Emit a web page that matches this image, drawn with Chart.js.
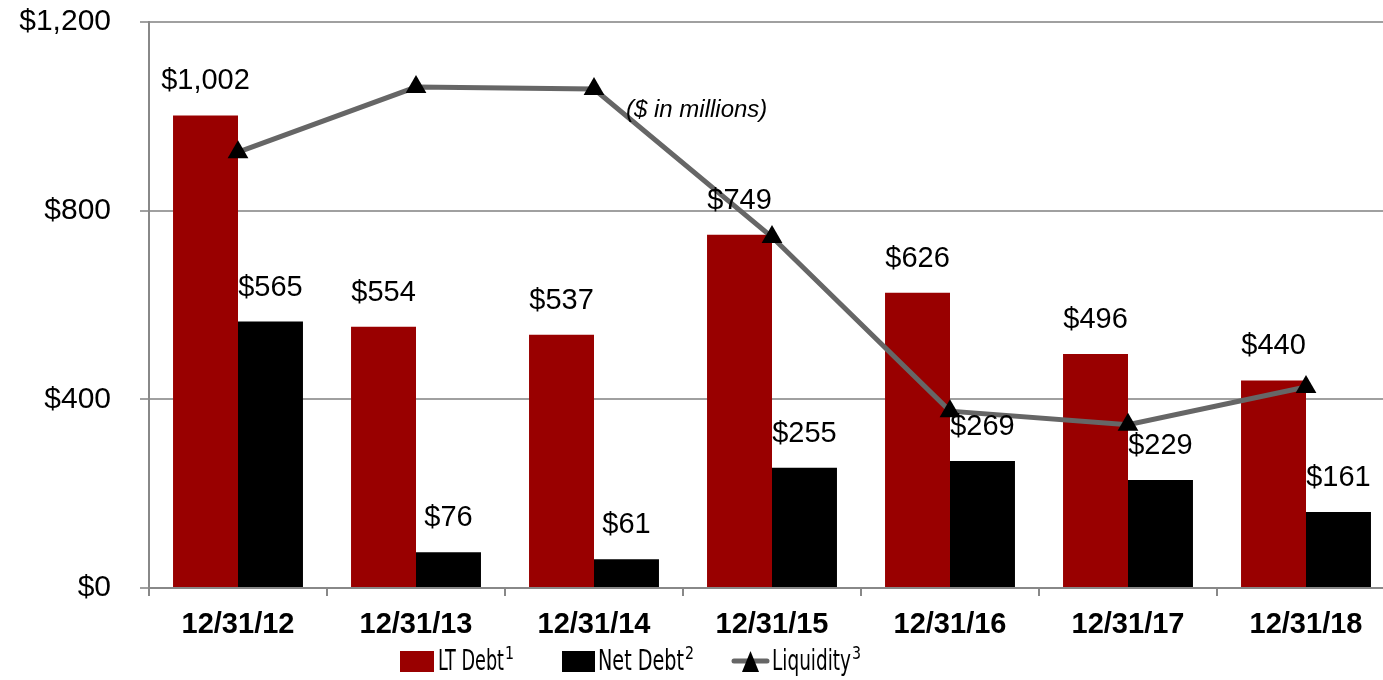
<!DOCTYPE html>
<html>
<head>
<meta charset="utf-8">
<script src="https://cdn.jsdelivr.net/npm/chart.js@4.4.0/dist/chart.umd.min.js"></script>
<style>
  html, body { margin: 0; padding: 0; background: #fff; overflow: hidden; }
  #wrap { position: relative; width: 1383px; height: 680px; }
</style>
</head>
<body>
<div id="wrap"><canvas id="chart"></canvas></div>
<script>
// values ($ in millions)
const categories = ['12/31/12', '12/31/13', '12/31/14', '12/31/15', '12/31/16', '12/31/17', '12/31/18'];
const ltDebt = [1002, 554, 537, 749, 626, 496, 440];
const netDebt = [565, 76, 61, 255, 269, 229, 161];
const liquidity = [924, 1062, 1058, 744, 375, 346, 426];
const yTicks = [0, 400, 800, 1200];

const RED = '#990000';
const LINE_GREY = '#666666';
const ARIAL = '"Liberation Sans", Arial, sans-serif';
const NARROW = '"Liberation Sans Narrow", "DejaVu Sans Condensed", sans-serif';

// the plot in the reference runs a little past the right edge of the picture
const stretchPlot = {
  id: 'stretchPlot',
  afterLayout(chart) {
    const x = chart.scales.x;
    const right = x.left + 1246;
    x.right = right;
    x.width = right - x.left;
    x.configure();
    chart.chartArea.right = right;
    chart.chartArea.width = right - chart.chartArea.left;
  }
};

// $ labels above each bar
const barLabels = {
  id: 'barLabels',
  afterDatasetsDraw(chart) {
    const ctx = chart.ctx;
    ctx.save();
    ctx.font = '29px ' + ARIAL;
    ctx.fillStyle = '#000';
    ctx.textAlign = 'center';
    ctx.textBaseline = 'middle';
    [0, 1].forEach(i => {
      const meta = chart.getDatasetMeta(i);
      meta.data.forEach((bar, j) => {
        const v = chart.data.datasets[i].data[j];
        ctx.fillText('$' + v.toLocaleString('en-US'), bar.x, bar.y - 34);
      });
    });
    // units note
    const a = chart.chartArea;
    ctx.font = 'italic 24px ' + ARIAL;
    ctx.textAlign = 'left';
    ctx.fillText('($ in millions)', a.left + 477, a.top + 88);
    ctx.restore();
  }
};

// legend drawn by hand so the line entry can show line + triangle
function legendText(ctx, text, sup, x, y, width) {
  ctx.font = '29px ' + NARROW;
  ctx.fillText(text, x, y, width);
  const w = Math.min(ctx.measureText(text).width, width);
  ctx.font = '18px ' + NARROW;
  ctx.fillText(sup, x + w + 1, y - 8, 9);
}

const customLegend = {
  id: 'customLegend',
  afterDraw(chart) {
    const ctx = chart.ctx;
    const y = 662;
    ctx.save();
    ctx.textBaseline = 'middle';
    ctx.textAlign = 'left';

    ctx.fillStyle = RED;
    ctx.fillRect(400, y - 11, 34, 21);
    ctx.fillStyle = '#000';
    legendText(ctx, 'LT Debt', '1', 438, y, 66);

    ctx.fillRect(562, y - 11, 33, 21);
    legendText(ctx, 'Net Debt', '2', 598, y, 86);

    ctx.strokeStyle = LINE_GREY;
    ctx.lineWidth = 5;
    ctx.lineCap = 'round';
    ctx.beginPath();
    ctx.moveTo(734, y - 1);
    ctx.lineTo(767, y - 1);
    ctx.stroke();
    ctx.beginPath();
    ctx.moveTo(750.5, y - 11);
    ctx.lineTo(759, y + 10);
    ctx.lineTo(742, y + 10);
    ctx.closePath();
    ctx.fill();
    legendText(ctx, 'Liquidity', '3', 772, y, 79);
    ctx.restore();
  }
};

new Chart(document.getElementById('chart'), {
  data: {
    labels: categories,
    datasets: [
      {
        type: 'bar',
        label: 'LT Debt\u00b9',
        data: ltDebt,
        backgroundColor: RED,
        order: 2,
        categoryPercentage: 0.73,
        barPercentage: 1.0
      },
      {
        type: 'bar',
        label: 'Net Debt\u00b2',
        data: netDebt,
        backgroundColor: '#000000',
        order: 2,
        categoryPercentage: 0.73,
        barPercentage: 1.0
      },
      {
        type: 'line',
        label: 'Liquidity\u00b3',
        data: liquidity,
        borderColor: LINE_GREY,
        borderWidth: 5,
        pointStyle: 'triangle',
        pointRadius: 12,
        pointBackgroundColor: '#000',
        pointBorderColor: '#000',
        pointBorderWidth: 0,
        tension: 0,
        order: 0
      }
    ]
  },
  plugins: [stretchPlot, barLabels, customLegend],
  options: {
    responsive: true,
    maintainAspectRatio: false,
    animation: false,
    devicePixelRatio: 1,
    layout: { padding: { top: 22, right: 0, bottom: 0, left: 0 } },
    plugins: {
      legend: { display: false },
      tooltip: { enabled: false }
    },
    scales: {
      x: {
        offset: true,
        grid: {
          offset: true,
          drawOnChartArea: false,
          tickLength: 8,
          color: '#888',
          lineWidth: 2
        },
        border: { display: true, color: '#888', width: 2 },
        ticks: {
          color: '#000',
          padding: 12,
          font: { family: ARIAL, size: 29, weight: 'bold' },
          maxRotation: 0
        },
        afterFit(scale) {
          scale.height = 92;
          scale.paddingLeft = 0;
          scale.paddingRight = 0;
        }
      },
      y: {
        min: 0,
        max: 1200,
        afterBuildTicks(scale) { scale.ticks = yTicks.map(v => ({ value: v })); },
        grid: {
          color: '#a0a0a0',
          lineWidth: 2,
          tickLength: 9
        },
        border: { display: true, color: '#888', width: 2 },
        ticks: {
          color: '#000',
          padding: 29,
          font: { family: ARIAL, size: 30 },
          callback: v => '$' + v.toLocaleString('en-US')
        },
        afterFit(scale) {
          scale.width = 149;
          scale.paddingTop = 0;
          scale.paddingBottom = 0;
        }
      }
    }
  }
});
</script>
</body>
</html>
